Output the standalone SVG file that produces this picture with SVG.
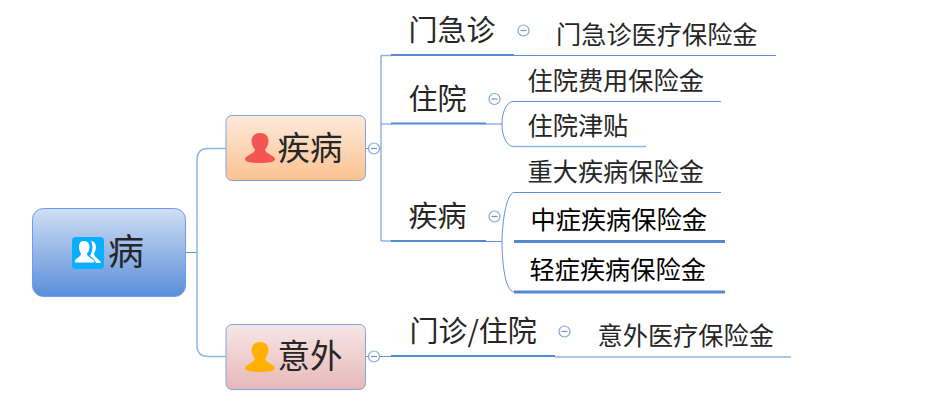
<svg xmlns="http://www.w3.org/2000/svg" width="930" height="402" viewBox="0 0 930 402">
<style>
text{font-family:"Noto Sans CJK SC","Liberation Sans",sans-serif;fill:#262626}
.k{fill:#000}
.l{font-size:25.200px}.m{font-size:29px}.t{font-size:32.500px}
.c{fill:none;stroke:#5f93dc;stroke-width:1}
.c2{fill:none;stroke:#8fb4e8;stroke-width:1.500}
.u{fill:none;stroke:#5488d4;stroke-width:2}
.u3{fill:none;stroke:#5488d4;stroke-width:3}
.b{fill:#fff;stroke:#7ea8e0;stroke-width:1.200}
.d{stroke:#7f93b0;stroke-width:1.200}
</style>
<defs>
<linearGradient id="g0" x1="0" y1="0" x2="0" y2="1"><stop offset="0" stop-color="#cfdff5"/><stop offset="1" stop-color="#5a8ed9"/></linearGradient>
<linearGradient id="g1" x1="0" y1="0" x2="0" y2="1"><stop offset="0" stop-color="#fdeadb"/><stop offset="1" stop-color="#fcc291"/></linearGradient>
<linearGradient id="g2" x1="0" y1="0" x2="0" y2="1"><stop offset="0" stop-color="#f6e6e6"/><stop offset="1" stop-color="#e8b8b8"/></linearGradient>
<g id="col"><circle r="5.500" class="b"/><line x1="-3" x2="3" class="d"/></g>
<path id="p" d="M0 -15C-5.500 -15 -8.500 -11.500 -8.500 -7C-8.500 -3 -6.500 -0.500 -5 1.500C-5.500 4 -8 5.500 -11 7C-14 8.500 -15 10 -15 11.500C-15 14 -8 15 0 15C8 15 15 14 15 11.500C15 10 14 8.500 11 7C8 5.500 5.500 4 5 1.500C6.500 -0.500 8.500 -3 8.500 -7C8.500 -11.500 5.500 -15 0 -15Z"/>
</defs>
<g id="connectors">
<path class="c" d="M186 252.500H197"/>
<path class="c2" d="M226 148.500H208Q197 148.500 197 160V345Q197 356.500 208 356.500H226"/>
<path class="c" d="M366 148.500H368M380 148.500H381"/>
<path class="c2" d="M381 55.500V241M381 55.500H392M381 241H392"/>
<path class="c" d="M381 124H392"/>
<path class="c" d="M366 356.500H368M380 356.500H391"/>
<path class="c" d="M514 55.500H776"/>
<path class="c" d="M486 124H502"/>
<path class="c" d="M513 101.500C506 102 502 113 502 124C502 135 506 146 513 146.500"/>
<path class="c" d="M486 241.500H502"/>
<path class="c" d="M721 192.500H514C506 193 502 225 502 241.500C502 262 505 291 514 292"/>
<path class="c" d="M513 101.500H721"/>
<path class="c2" d="M513 146.500H646"/>
<path class="c2" d="M555 357H791"/>
</g>
<g id="root">
<rect x="32.500" y="208.500" width="153" height="88" rx="11" fill="url(#g0)" stroke="#6d9bf0" stroke-width="1"/>
<rect x="72" y="237" width="32" height="32" rx="4" fill="#0aaeff"/>
<path fill="#fff" d="M84 241C80 241 79 244 79 247C79 250 80 252 81 253.500C81 256 79 257 76 259C75 260 74.500 261 75 262.500H94C94.500 261 94 260 92 259C89 257 87 256 87 253.500C88.500 252 89.500 250 89.500 247C89.500 244 88 241 84 241Z"/>
<path fill="#fff" d="M91 241C94 241 96 244 96 247C96 250 94.500 252 94 254C94 256 97 258 99 260C100 261 101 262 101 263H96C95 260 93 258 90 256C91 254 92.500 251 92.500 247C92.500 245 92 243 91 241Z"/>
<text x="108" y="265" style="font-size:36px">病</text>
</g>
<g id="n-jibing">
<rect x="226" y="115.500" width="139.500" height="65" rx="6" fill="url(#g1)" stroke="#7fa5dc" stroke-width="1"/>
<use href="#p" x="260" y="148" fill="#f25552"/>
<text x="277.500" y="160" class="t">疾病</text>
</g>
<g id="n-yiwai">
<rect x="226" y="324.500" width="139.500" height="65" rx="6" fill="url(#g2)" stroke="#7fa5dc" stroke-width="1"/>
<use href="#p" x="260" y="357" fill="#ffb000"/>
<text x="277.500" y="368" class="t">意外</text>
</g>
<g id="n-menjizhen">
<path class="u" d="M391 55H514"/>
<text x="408.500" y="41" class="m">门急诊</text>
<use href="#col" x="523.500" y="30.500"/>
</g>
<g id="n-menjizhen-leaf"><text x="556" y="44" class="l">门急诊医疗保险金</text></g>
<g id="n-zhuyuan">
<path class="u" d="M391 123.500H486"/>
<text x="408.500" y="110" class="m">住院</text>
<use href="#col" x="494.500" y="99"/>
</g>
<g id="n-leaf1"><text x="527.500" y="90" class="l">住院费用保险金</text></g>
<g id="n-leaf2"><text x="527.500" y="135" class="l">住院津贴</text></g>
<g id="n-jibing2">
<path class="u" d="M391 241H486"/>
<text x="408.500" y="227" class="m">疾病</text>
<use href="#col" x="494.500" y="216.500"/>
</g>
<g id="n-leaf3"><text x="527.500" y="181" class="l">重大疾病保险金</text></g>
<g id="n-leaf4">
<path class="u3" d="M514 241.500H725"/>
<text x="530.500" y="229" class="l k">中症疾病保险金</text>
</g>
<g id="n-leaf5">
<path class="u3" d="M514 292H725"/>
<text x="529.500" y="279" class="l k">轻症疾病保险金</text>
</g>
<g id="n-menzhen">
<path class="u" d="M391 356H555"/>
<text x="409.500" y="342" class="m">门诊/住院</text>
<use href="#col" x="564.500" y="331.500"/>
</g>
<g id="n-leaf6"><text x="597.500" y="345" class="l">意外医疗保险金</text></g>
<use href="#col" x="374" y="148.500"/>
<use href="#col" x="374" y="356.500"/>
</svg>
